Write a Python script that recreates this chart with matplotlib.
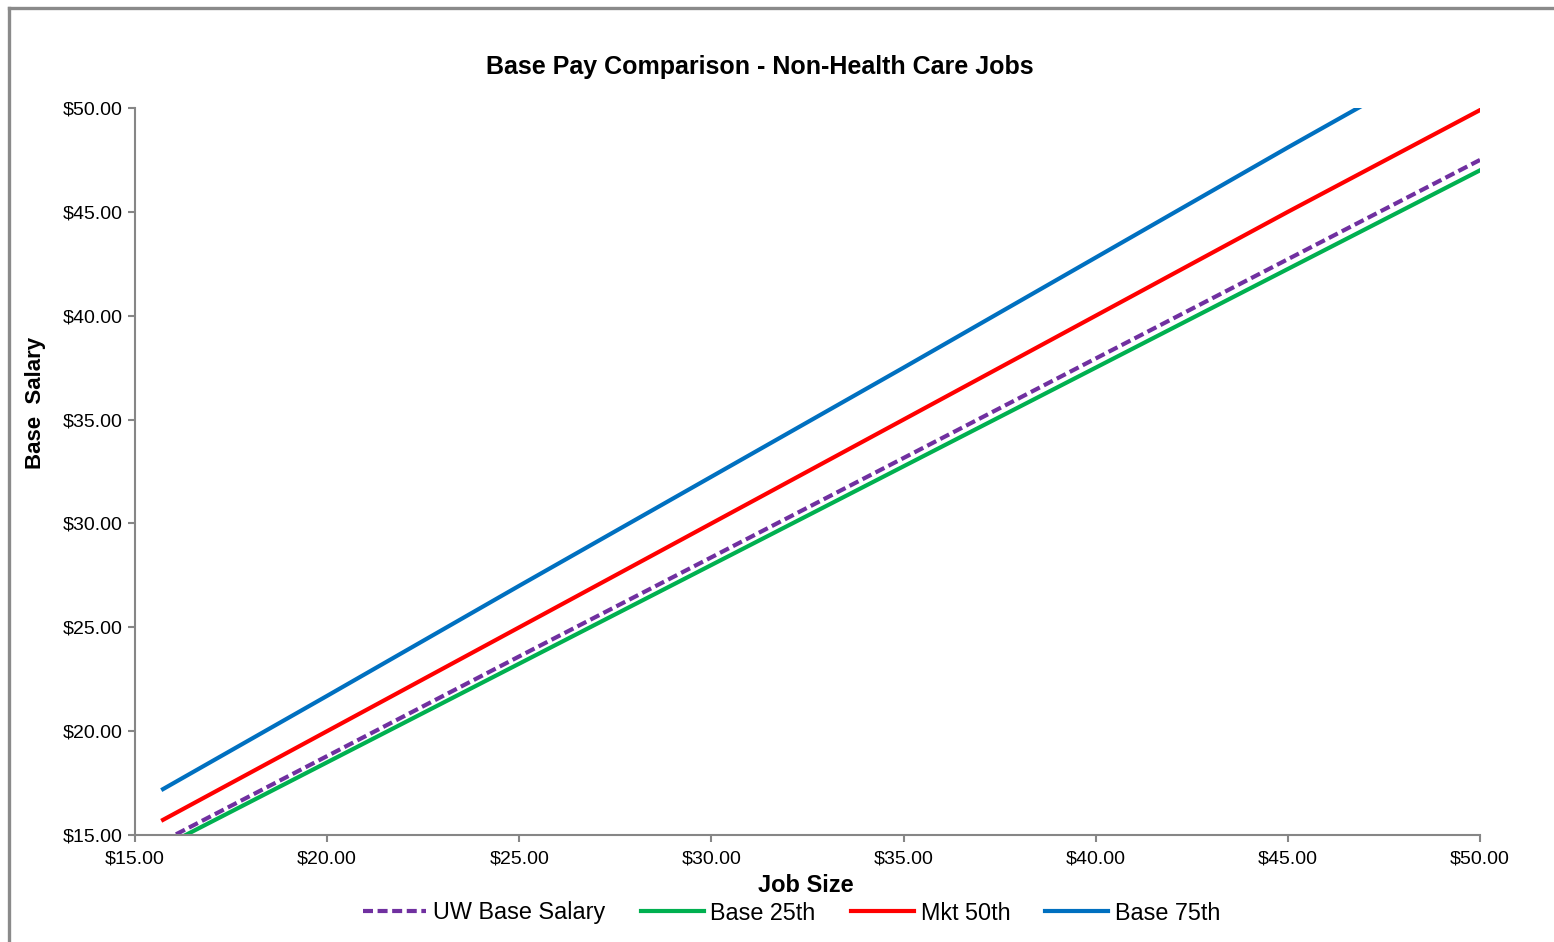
import matplotlib
matplotlib.use("Agg")
import matplotlib.pyplot as plt
from matplotlib.lines import Line2D
from matplotlib.ticker import FuncFormatter, MultipleLocator

# Job size points (dollars) and pay lines for each series
job_size = [15.73, 20, 25, 30, 35, 40, 45, 50]
uw_base_salary = [14.71, 18.80, 23.60, 28.37, 33.15, 37.94, 42.72, 47.50]
base_25th = [14.44, 18.50, 23.25, 28.00, 32.75, 37.50, 42.25, 47.00]
mkt_50th = [15.73, 20.00, 25.00, 30.00, 35.00, 40.00, 45.00, 49.90]
base_75th = [17.21, 21.70, 27.00, 32.25, 37.50, 42.80, 48.10, 53.30]

series_names = ["UW Base Salary", "Base 25th", "Mkt 50th", "Base 75th"]
series_colors = ["#7030A0", "#00B050", "#FF0000", "#0070C0"]

plt.rcParams["font.family"] = ["Liberation Sans", "DejaVu Sans"]

fig = plt.figure(figsize=(15.54, 9.42), dpi=100)
W, H = 1554, 942
ax = fig.add_axes([135 / W, 1 - 835 / H, (1480 - 135) / W, (835 - 108) / H])

grey = "#868686"
ax.plot(job_size, uw_base_salary, color=series_colors[0], lw=3, ls=(0, (2.4, 1.1)),
        label=series_names[0])
ax.plot(job_size, base_25th, color=series_colors[1], lw=3, label=series_names[1])
ax.plot(job_size, mkt_50th, color=series_colors[2], lw=3, label=series_names[2])
ax.plot(job_size, base_75th, color=series_colors[3], lw=3, label=series_names[3])

ax.set_xlim(15, 50)
ax.set_ylim(15, 50)
ax.xaxis.set_major_locator(MultipleLocator(5))
ax.yaxis.set_major_locator(MultipleLocator(5))
money = FuncFormatter(lambda v, p: f"${v:.2f}")
ax.xaxis.set_major_formatter(money)
ax.yaxis.set_major_formatter(money)

for side in ("top", "right"):
    ax.spines[side].set_visible(False)
for side in ("left", "bottom"):
    ax.spines[side].set_color(grey)
    ax.spines[side].set_linewidth(1.5)
ax.tick_params(axis="both", direction="out", length=5, width=1.5, color=grey,
               labelsize=14, labelcolor="black")
ax.tick_params(axis="x", pad=6)
ax.tick_params(axis="y", pad=4)

fig.text(760 / W, 1 - 67 / H, "Base Pay Comparison - Non-Health Care Jobs",
         ha="center", va="center", fontsize=18, fontweight="bold")
fig.text(36 / W, 1 - 403 / H, "Base  Salary", rotation=90, ha="center",
         va="center", fontsize=16, fontweight="bold")
fig.text(806 / W, 1 - 885 / H, "Job Size", ha="center", va="center",
         fontsize=17, fontweight="bold")

fig.legend(loc="center", bbox_to_anchor=(792 / W, 1 - 913 / H), ncol=4,
           frameon=False, fontsize=16.8, handlelength=2.7, handletextpad=0.3,
           columnspacing=1.5)

# Chart area border (left and top edges)
fig.add_artist(Line2D([9 / W, 9 / W], [0, 1 - 7.7 / H], transform=fig.transFigure,
                      color="#8a8a8a", lw=2.4, solid_capstyle="projecting"))
fig.add_artist(Line2D([9 / W, 1], [1 - 7.7 / H, 1 - 7.7 / H], transform=fig.transFigure,
                      color="#8a8a8a", lw=2.4, solid_capstyle="projecting"))

fig.savefig("out.png", dpi=100)
